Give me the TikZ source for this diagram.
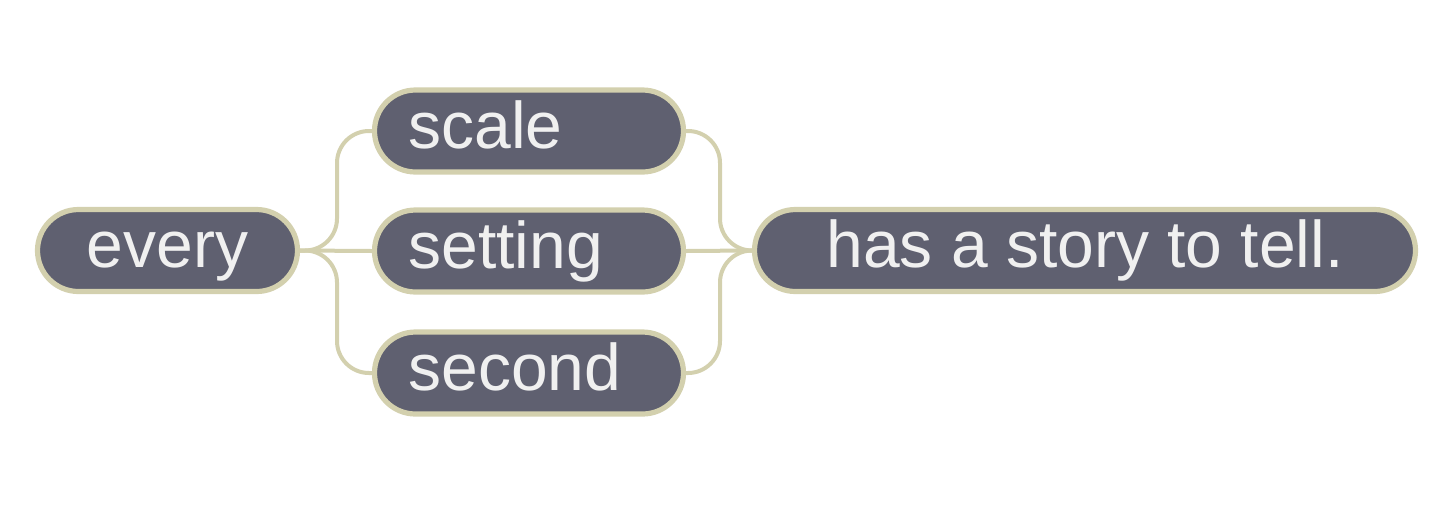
\documentclass[tikz,border=0pt]{standalone}
\usepackage{fontspec}
\setmainfont{Liberation Sans}
\definecolor{pillfill}{HTML}{5F6070}
\definecolor{pilledge}{HTML}{D3D0AE}
\definecolor{pilltext}{HTML}{F0F0F0}
\begin{document}
\begin{tikzpicture}[x=0.5pt,y=-0.5pt,
  pill/.style={draw=pilledge, fill=pillfill, line width=2.6pt, rounded corners=20.5pt,
    minimum height=41pt, text=pilltext, font=\fontsize{33pt}{33pt}\selectfont,
    text height=25pt, text depth=8pt, inner ysep=0pt},
  midpill/.style={pill, inner xsep=17pt, text width=120.5pt, align=left},
  link/.style={draw=pilledge, line width=2pt, rounded corners=16pt}]
\useasboundingbox (0,0) rectangle (1440,510);
\node[pill, minimum width=130pt] (every) at (167.5,250.5) {every};
\node[midpill] (scale) at (529,131) {scale};
\node[midpill] (setting) at (529,251) {setting};
\node[midpill] (second) at (529,373) {second};
\node[pill, minimum width=330.5pt] (story) at (1085,250.5) {has a story to tell.};
\coordinate (jl) at (337,0);
\coordinate (jr) at (720,0);
\draw[link] (every.east) -| (jl |- scale.west) -- (scale.west);
\draw[link] (every.east) -| (jl |- second.west) -- (second.west);
\draw[link] (every.east) -- (setting.west);
\draw[link] (scale.east) -| (jr |- story.west) -- (story.west);
\draw[link] (second.east) -| (jr |- story.west) -- (story.west);
\draw[link] (setting.east) -- (story.west);
\end{tikzpicture}
\end{document}
